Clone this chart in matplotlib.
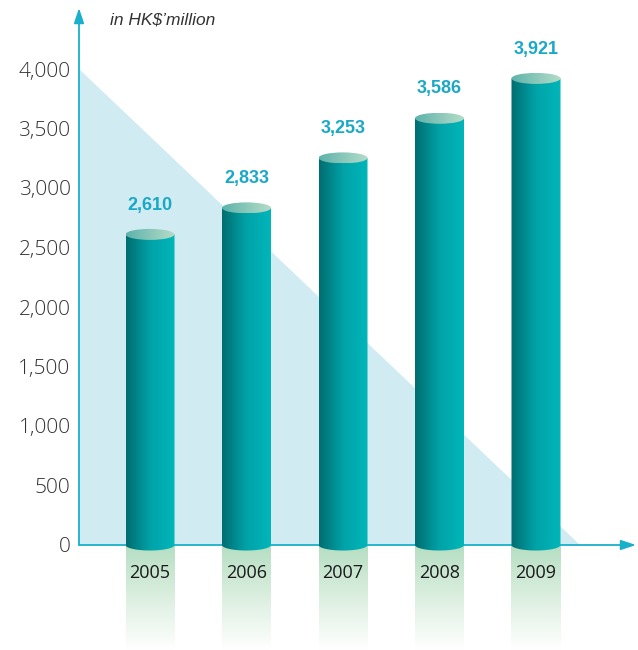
import numpy as np
import matplotlib
matplotlib.use("Agg")
import matplotlib.pyplot as plt
from matplotlib.patches import Ellipse, Polygon, PathPatch
from matplotlib.path import Path
from matplotlib.colors import LinearSegmentedColormap

# ---------------- data ----------------
years = ["2005", "2006", "2007", "2008", "2009"]
values = [2610, 2833, 3253, 3586, 3921]
value_labels = ["2,610", "2,833", "3,253", "3,586", "3,921"]
yticks = [0, 500, 1000, 1500, 2000, 2500, 3000, 3500, 4000]
ytick_labels = ["0", "500", "1,000", "1,500", "2,000", "2,500", "3,000", "3,500", "4,000"]
unit_label = "in HK$\u2019million"

# ---------------- layout (pixel based) ----------------
PX_X = 96.5      # pixels per category step
PX_Y = 0.119     # pixels per unit value
X0_PX = 150      # pixel x of first bar centre
AXIS_PX = 79     # pixel x of y axis
ZERO_PX = 545    # pixel y (from top) of zero line

fig = plt.figure(figsize=(6.38, 6.5), dpi=100)
ax = fig.add_axes([0, 0, 1, 1])
xmin, xmax = -X0_PX / PX_X, (638 - X0_PX) / PX_X
ymin, ymax = -(650 - ZERO_PX) / PX_Y, ZERO_PX / PX_Y
x_axis = -(X0_PX - AXIS_PX) / PX_X

cyan = "#1ab0cc"
LIGHT = ["Open Sans", "DejaVu Sans"]
SANS = ["Liberation Sans", "DejaVu Sans"]

# background triangle
tri_end = (580 - X0_PX) / PX_X
ax.add_patch(Polygon([(x_axis, 0), (x_axis, yticks[-1]), (tri_end, 0)],
                     closed=True, facecolor="#d0ebf1", edgecolor="none", zorder=1))

body_cmap = LinearSegmentedColormap.from_list("body", ["#006d70", "#00a3a8", "#00b6ba"])
top_cmap = LinearSegmentedColormap.from_list("top", ["#5db3ab", "#b6dcc8"])
refl_cmap = LinearSegmentedColormap.from_list("refl", ["#ffffff", "#dcefe0", "#b5dec2"])

w = 49 / PX_X
ry = 5.5 / PX_Y
hgrad = np.linspace(0, 1, 256).reshape(1, -1)
vgrad = np.linspace(0, 1, 256).reshape(-1, 1)

xs = np.arange(len(years))
for x, v in zip(xs, values):
    # reflection below axis
    ax.imshow(vgrad, extent=(x - w / 2, x + w / 2, ymin, 0), origin="lower",
              cmap=refl_cmap, aspect="auto", zorder=1.5, interpolation="bilinear")
    # cylinder body with rounded bottom
    t = np.linspace(np.pi, 2 * np.pi, 60)
    pts = [(x + w / 2 * np.cos(tt), ry * np.sin(tt)) for tt in t]
    pts += [(x + w / 2, v), (x - w / 2, v), pts[0]]
    path = Path(pts, [Path.MOVETO] + [Path.LINETO] * (len(pts) - 2) + [Path.CLOSEPOLY])
    patch = PathPatch(path, facecolor="none", edgecolor="none", transform=ax.transData)
    ax.add_patch(patch)
    im = ax.imshow(hgrad, extent=(x - w / 2, x + w / 2, -ry, v), cmap=body_cmap,
                   aspect="auto", zorder=4, interpolation="bilinear")
    im.set_clip_path(patch)
    # top ellipse
    ell = Ellipse((x, v), w, 2 * ry, facecolor="none", edgecolor="none",
                  transform=ax.transData)
    ax.add_patch(ell)
    im2 = ax.imshow(hgrad, extent=(x - w / 2, x + w / 2, v - ry, v + ry),
                    cmap=top_cmap, aspect="auto", zorder=5, interpolation="bilinear")
    im2.set_clip_path(ell)

for x, v, lab in zip(xs, values, value_labels):
    ax.annotate(lab, xy=(x, v), xytext=(0, 15), textcoords="offset points",
                ha="center", va="bottom", fontsize=13, fontweight="bold",
                color="#19a9c6", family=SANS, zorder=6)

# axes arrows
ax.annotate("", xy=(x_axis, (ZERO_PX - 8) / PX_Y), xytext=(x_axis, 0),
            arrowprops=dict(arrowstyle="-|>,head_length=0.9,head_width=0.3",
                            color=cyan, lw=1.3, shrinkA=0, shrinkB=0), zorder=7)
ax.annotate("", xy=((636 - X0_PX) / PX_X, 0), xytext=(x_axis, 0),
            arrowprops=dict(arrowstyle="-|>,head_length=0.9,head_width=0.3",
                            color=cyan, lw=1.3, shrinkA=0, shrinkB=0), zorder=3)

ax.set_xlim(xmin, xmax)
ax.set_ylim(ymin, ymax)
ax.set_axisbelow(False)
for s in ax.spines.values():
    s.set_color("none")
ax.spines["left"].set_position(("data", x_axis))
ax.spines["bottom"].set_position(("data", 0))
ax.set_yticks(yticks)
ax.set_yticklabels(ytick_labels, fontsize=15, color="#333333", family=LIGHT, fontweight="light")
ax.set_xticks(xs)
ax.set_xticklabels(years, fontsize=13, color="#1a1a1a", family=LIGHT, fontweight="normal")
ax.tick_params(axis="y", length=0, pad=6)
ax.tick_params(axis="x", length=0, pad=14)
ax.patch.set_alpha(0)

ax.text(x_axis + 31 / PX_X, (ZERO_PX - 20) / PX_Y, unit_label, fontsize=12.5,
        style="italic", color="#333333", family=SANS, va="center", ha="left")

fig.savefig("out.png", dpi=100)
